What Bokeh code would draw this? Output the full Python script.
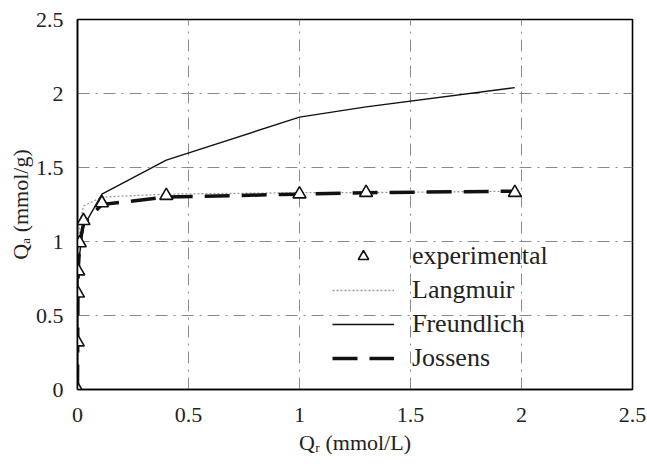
from bokeh.plotting import figure
from bokeh.models import Range1d, Legend, LegendItem, FixedTicker
from bokeh.embed import file_html
from bokeh.resources import INLINE

# Data
qr_exp = [0, 0.001, 0.002, 0.003, 0.01, 0.027, 0.11, 0.40, 1.0, 1.30, 1.97]
qa_exp = [0, 0.32, 0.65, 0.80, 0.99, 1.14, 1.26, 1.31, 1.32, 1.33, 1.33]

qr_model = [0, 0.001, 0.002, 0.003, 0.01, 0.027, 0.11, 0.40, 1.0, 1.30, 1.97]
qa_langmuir = [0, 0.45, 0.67, 0.80, 1.12, 1.24, 1.30, 1.32, 1.33, 1.33, 1.34]
qa_freundlich = [0, 0.64, 0.72, 0.78, 0.92, 1.10, 1.32, 1.55, 1.84, 1.91, 2.04]
qa_jossens = [0, 0.32, 0.65, 0.80, 0.99, 1.12, 1.25, 1.30, 1.32, 1.33, 1.34]

ticks = [0, 0.5, 1, 1.5, 2, 2.5]
tick_labels = {0: "0", 0.5: "0.5", 1: "1", 1.5: "1.5", 2: "2", 2.5: "2.5"}

FONT = "Liberation Serif"

p = figure(width=647, height=464, output_backend="svg", toolbar_location=None,
           x_range=Range1d(0, 2.5), y_range=Range1d(0, 2.5),
           min_border_left=77, min_border_right=15, min_border_top=19,
           min_border_bottom=75)
p.background_fill_color = "white"
p.border_fill_color = "white"
p.outline_line_color = "black"
p.outline_line_width = 1.6

for ax in (p.xaxis[0], p.yaxis[0]):
    ax.ticker = FixedTicker(ticks=ticks)
    ax.major_label_overrides = tick_labels
    ax.major_label_text_font = FONT
    ax.major_label_text_font_size = "22px"
    ax.major_label_text_color = "#222222"
    ax.axis_label_text_font = FONT
    ax.axis_label_text_font_size = "22px"
    ax.axis_label_text_font_style = "normal"
    ax.axis_label_text_color = "#222222"
    ax.axis_line_color = "black"
    ax.axis_line_width = 1.5
    ax.major_tick_in = 0
    ax.major_tick_out = 0
    ax.minor_tick_line_color = None

p.xaxis[0].axis_label = "Qᵣ (mmol/L)"
p.yaxis[0].axis_label = "Qₐ (mmol/g)"
p.xaxis[0].major_label_standoff = 18
p.yaxis[0].major_label_standoff = 14
p.xaxis[0].axis_label_standoff = 5
p.yaxis[0].axis_label_standoff = 0

for g in (p.xgrid[0], p.ygrid[0]):
    g.grid_line_color = "#8a8a8a"
    g.grid_line_dash = "12 6 2 6"
    g.grid_line_width = 1

r_lang = p.line(qr_model, qa_langmuir, line_color="#9a9a9a", line_width=1.3, line_dash="2 2")
r_freu = p.line(qr_model, qa_freundlich, line_color="#111111", line_width=1.4)
r_joss = p.line(qr_model, qa_jossens, line_color="#111111", line_width=3.5, line_dash="25 12")
r_exp = p.scatter(qr_exp, qa_exp, marker="triangle", size=13, fill_color="white",
                  line_color="#111111", line_width=1.6)

legend = Legend(items=[
    LegendItem(label="experimental", renderers=[r_exp]),
    LegendItem(label="Langmuir", renderers=[r_lang]),
    LegendItem(label="Freundlich", renderers=[r_freu]),
    LegendItem(label="Jossens", renderers=[r_joss]),
], location=(255, 16))
legend.border_line_color = None
legend.background_fill_alpha = 0
legend.label_text_font = FONT
legend.label_text_font_size = "26px"
legend.label_text_color = "#222222"
legend.glyph_width = 62
legend.glyph_height = 26
legend.label_height = 26
legend.spacing = 4
legend.label_standoff = 18
legend.padding = 0
legend.margin = 0
p.add_layout(legend, "center")

open("out.html", "w").write(file_html(p, INLINE))
